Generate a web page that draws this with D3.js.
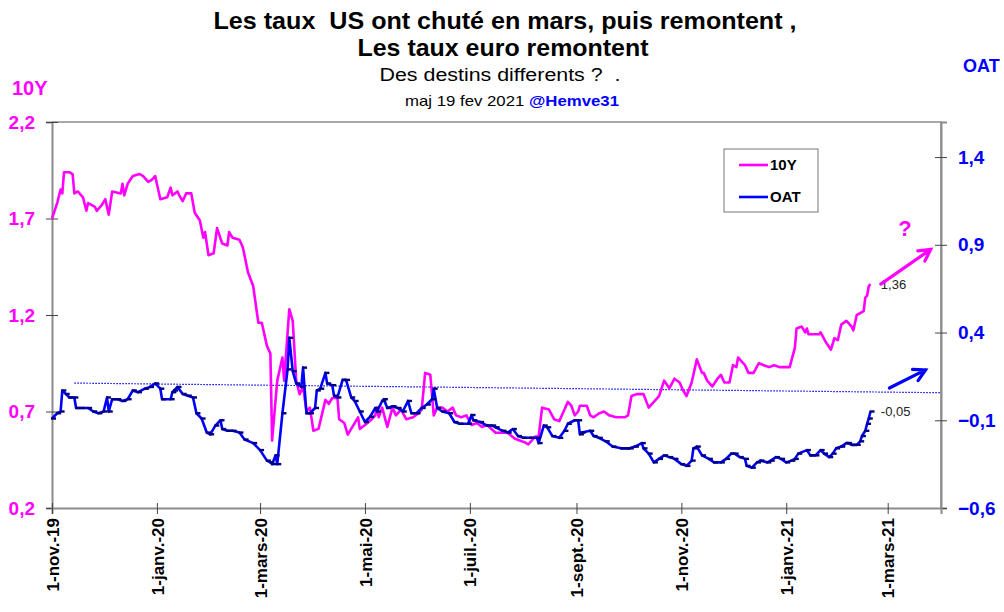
<!DOCTYPE html>
<head>
<meta charset="utf-8">
<style>
body { margin: 0; background: #fff; }
svg { display: block; font-family: Arial, "Liberation Sans", sans-serif; }
</style>
</head>
<body>
<script src="https://cdnjs.cloudflare.com/ajax/libs/d3/7.8.5/d3.min.js"></script>
<script>

// 10 ans US (axe gauche)
var usDates = [
  "2019-11-01","2019-11-04","2019-11-06","2019-11-07","2019-11-08","2019-11-11","2019-11-13","2019-11-14",
  "2019-11-16","2019-11-19","2019-11-21","2019-11-22","2019-11-26","2019-11-27","2019-11-30","2019-12-02",
  "2019-12-04","2019-12-06","2019-12-11","2019-12-12","2019-12-13","2019-12-15","2019-12-18","2019-12-22",
  "2019-12-24","2019-12-27","2019-12-29","2019-12-31","2020-01-03","2020-01-07","2020-01-09","2020-01-10",
  "2020-01-13","2020-01-14","2020-01-16","2020-01-18","2020-01-21","2020-01-23","2020-01-26","2020-01-28",
  "2020-01-29","2020-01-31","2020-02-03","2020-02-05","2020-02-08","2020-02-11","2020-02-12","2020-02-14",
  "2020-02-18","2020-02-20","2020-02-23","2020-02-26","2020-02-29","2020-03-02","2020-03-05","2020-03-07",
  "2020-03-08","2020-03-11","2020-03-14","2020-03-15","2020-03-18","2020-03-20","2020-03-22","2020-03-24",
  "2020-03-26","2020-03-28","2020-03-30","2020-04-01","2020-04-04","2020-04-08","2020-04-10","2020-04-12",
  "2020-04-15","2020-04-16","2020-04-19","2020-04-21","2020-04-23","2020-04-27","2020-04-28","2020-05-01",
  "2020-05-05","2020-05-07","2020-05-08","2020-05-09","2020-05-11","2020-05-14","2020-05-17","2020-05-19",
  "2020-05-22","2020-05-25","2020-05-29","2020-06-01","2020-06-03","2020-06-05","2020-06-08","2020-06-10",
  "2020-06-12","2020-06-15","2020-06-18","2020-06-21","2020-06-23","2020-06-26","2020-06-29","2020-07-02",
  "2020-07-05","2020-07-08","2020-07-11","2020-07-16","2020-07-20","2020-07-23","2020-07-27","2020-07-30",
  "2020-08-02","2020-08-04","2020-08-08","2020-08-10","2020-08-12","2020-08-16","2020-08-19","2020-08-22",
  "2020-08-24","2020-08-27","2020-08-29","2020-08-31","2020-09-02","2020-09-03","2020-09-07","2020-09-09",
  "2020-09-11","2020-09-14","2020-09-17","2020-09-20","2020-09-24","2020-09-29","2020-10-01","2020-10-03",
  "2020-10-06","2020-10-10","2020-10-13","2020-10-16","2020-10-19","2020-10-22","2020-10-25","2020-10-28",
  "2020-10-31","2020-11-02","2020-11-04","2020-11-07","2020-11-10","2020-11-13","2020-11-14","2020-11-16",
  "2020-11-19","2020-11-22","2020-11-24","2020-11-26","2020-11-29","2020-12-01","2020-12-03","2020-12-04",
  "2020-12-06","2020-12-08","2020-12-10","2020-12-13","2020-12-16","2020-12-19","2020-12-22","2020-12-25",
  "2020-12-28","2020-12-31","2021-01-03","2021-01-06","2021-01-07","2021-01-10","2021-01-12","2021-01-13",
  "2021-01-14","2021-01-17","2021-01-20","2021-01-21","2021-01-24","2021-01-27","2021-01-29","2021-01-31",
  "2021-02-02","2021-02-05","2021-02-06","2021-02-08","2021-02-09","2021-02-11","2021-02-13","2021-02-15",
  "2021-02-16","2021-02-17","2021-02-18","2021-02-19"
];
var usValues = [
  1.70,1.78,1.85,1.83,1.94,1.94,1.93,1.83,
  1.84,1.81,1.74,1.78,1.76,1.74,1.77,1.80,
  1.72,1.84,1.83,1.88,1.82,1.88,1.92,1.93,
  1.92,1.89,1.90,1.92,1.80,1.81,1.86,1.82,
  1.84,1.82,1.79,1.83,1.83,1.73,1.69,1.60,
  1.63,1.51,1.52,1.65,1.57,1.56,1.63,1.60,
  1.59,1.55,1.42,1.35,1.16,1.16,1.04,1.00,
  0.55,0.86,0.98,0.86,1.23,1.17,0.86,0.79,
  0.83,0.70,0.72,0.60,0.61,0.76,0.74,0.77,
  0.77,0.66,0.64,0.58,0.61,0.67,0.61,0.63,
  0.66,0.68,0.72,0.67,0.72,0.62,0.72,0.68,
  0.71,0.66,0.67,0.69,0.71,0.90,0.89,0.68,
  0.72,0.72,0.70,0.72,0.68,0.67,0.68,0.63,
  0.64,0.62,0.63,0.59,0.59,0.59,0.56,0.55,
  0.54,0.53,0.57,0.57,0.72,0.71,0.66,0.65,
  0.69,0.75,0.73,0.68,0.70,0.73,0.73,0.68,
  0.67,0.69,0.70,0.68,0.67,0.67,0.68,0.78,
  0.79,0.79,0.72,0.75,0.78,0.86,0.82,0.87,
  0.85,0.81,0.78,0.85,0.97,0.90,0.90,0.86,
  0.83,0.87,0.89,0.85,0.85,0.94,0.93,0.98,
  0.96,0.94,0.90,0.90,0.95,0.94,0.93,0.94,
  0.93,0.93,0.93,1.03,1.13,1.14,1.11,1.13,
  1.10,1.10,1.10,1.11,1.06,1.02,1.08,1.07,
  1.15,1.17,1.16,1.14,1.12,1.20,1.21,1.22,
  1.29,1.30,1.35,1.36
];

// OAT 10 ans (axe droit)
var oatDates = [
  "2019-11-01","2019-11-04","2019-11-06","2019-11-07","2019-11-09","2019-11-11","2019-11-14","2019-11-15",
  "2019-11-18","2019-11-22","2019-11-25","2019-11-28","2019-12-01","2019-12-03","2019-12-04","2019-12-06",
  "2019-12-09","2019-12-12","2019-12-15","2019-12-18","2019-12-21","2019-12-25","2019-12-28","2019-12-31",
  "2020-01-03","2020-01-04","2020-01-09","2020-01-10","2020-01-11","2020-01-13","2020-01-16","2020-01-19",
  "2020-01-22","2020-01-24","2020-01-27","2020-01-30","2020-02-01","2020-02-04","2020-02-07","2020-02-08",
  "2020-02-11","2020-02-14","2020-02-18","2020-02-21","2020-02-26","2020-03-01","2020-03-05","2020-03-07",
  "2020-03-08","2020-03-10","2020-03-11","2020-03-14","2020-03-17","2020-03-18","2020-03-20","2020-03-22",
  "2020-03-25","2020-03-26","2020-03-28","2020-03-30","2020-04-02","2020-04-03","2020-04-05","2020-04-08",
  "2020-04-09","2020-04-12","2020-04-13","2020-04-15","2020-04-18","2020-04-20","2020-04-23","2020-04-25",
  "2020-04-28","2020-05-01","2020-05-04","2020-05-07","2020-05-08","2020-05-11","2020-05-12","2020-05-14",
  "2020-05-17","2020-05-20","2020-05-23","2020-05-26","2020-05-28","2020-05-31","2020-06-03","2020-06-06",
  "2020-06-09","2020-06-10","2020-06-12","2020-06-15","2020-06-19","2020-06-22","2020-06-25","2020-06-30",
  "2020-07-02","2020-07-03","2020-07-07","2020-07-11","2020-07-14","2020-07-16","2020-07-20","2020-07-23",
  "2020-07-26","2020-07-29","2020-08-01","2020-08-05","2020-08-09","2020-08-10","2020-08-13","2020-08-15",
  "2020-08-18","2020-08-22","2020-08-25","2020-08-27","2020-08-31","2020-09-02","2020-09-03","2020-09-04",
  "2020-09-09","2020-09-11","2020-09-14","2020-09-18","2020-09-22","2020-09-27","2020-09-30","2020-10-02",
  "2020-10-05","2020-10-09","2020-10-10","2020-10-13","2020-10-16","2020-10-19","2020-10-22","2020-10-25",
  "2020-10-28","2020-11-01","2020-11-04","2020-11-07","2020-11-08","2020-11-10","2020-11-13","2020-11-17",
  "2020-11-20","2020-11-24","2020-11-27","2020-11-30","2020-12-02","2020-12-05","2020-12-08","2020-12-09",
  "2020-12-12","2020-12-15","2020-12-17","2020-12-21","2020-12-23","2020-12-26","2020-12-29","2021-01-01",
  "2021-01-04","2021-01-06","2021-01-08","2021-01-13","2021-01-15","2021-01-18","2021-01-21","2021-01-23",
  "2021-01-26","2021-01-28","2021-01-30","2021-02-02","2021-02-05","2021-02-06","2021-02-08","2021-02-11",
  "2021-02-13","2021-02-14","2021-02-16","2021-02-17","2021-02-18","2021-02-19"
];
var oatValues = [
  -0.09,-0.06,-0.05,0.07,0.05,0.03,0.03,-0.03,
  -0.03,-0.03,-0.05,-0.06,-0.05,0.03,-0.05,0.02,
  0.02,0.01,0.02,0.07,0.06,0.08,0.09,0.11,
  0.08,0.02,0.02,0.06,0.07,0.09,0.05,0.04,
  0.03,-0.06,-0.09,-0.17,-0.18,-0.13,-0.10,-0.15,
  -0.16,-0.16,-0.17,-0.21,-0.23,-0.27,-0.33,-0.34,
  -0.35,-0.30,-0.35,-0.06,0.19,0.37,0.18,0.11,
  0.09,0.20,-0.06,-0.06,-0.03,0.07,0.08,0.17,
  0.11,0.10,0.04,0.03,0.13,0.13,0.03,0.01,
  -0.05,-0.11,-0.08,-0.03,-0.05,0.01,0.02,-0.03,
  -0.02,-0.03,-0.05,0.01,-0.06,-0.06,-0.03,-0.01,
  0.02,0.08,-0.03,-0.05,-0.06,-0.11,-0.12,-0.12,
  -0.07,-0.10,-0.11,-0.13,-0.13,-0.14,-0.16,-0.17,
  -0.15,-0.19,-0.20,-0.20,-0.20,-0.23,-0.13,-0.14,
  -0.19,-0.20,-0.16,-0.12,-0.10,-0.10,-0.18,-0.17,
  -0.16,-0.19,-0.20,-0.22,-0.25,-0.26,-0.26,-0.26,
  -0.25,-0.23,-0.26,-0.29,-0.34,-0.32,-0.30,-0.31,
  -0.32,-0.35,-0.36,-0.33,-0.26,-0.25,-0.30,-0.32,
  -0.34,-0.34,-0.32,-0.29,-0.29,-0.31,-0.32,-0.36,
  -0.37,-0.34,-0.33,-0.34,-0.33,-0.31,-0.32,-0.34,
  -0.33,-0.32,-0.29,-0.27,-0.30,-0.30,-0.27,-0.29,
  -0.31,-0.29,-0.26,-0.25,-0.23,-0.23,-0.24,-0.24,
  -0.22,-0.19,-0.16,-0.12,-0.09,-0.05
];

// ligne pointillée (axe droit)
var trendDates = ["2019-11-14", "2021-04-01"];
var trendValues = [0.112, 0.057];

var xDomain = ["2019-11-01", "2021-04-01"];
var tickDates = ["2019-11-01","2020-01-01","2020-03-01","2020-05-01","2020-07-01","2020-09-01","2020-11-01","2021-01-01","2021-03-01"];
var tickLabels = ["1-nov.-19","1-janv.-20","1-mars-20","1-mai-20","1-juil.-20","1-sept.-20","1-nov.-20","1-janv.-21","1-mars-21"];
var leftTicks = [0.2, 0.7, 1.2, 1.7, 2.2];
var rightTicks = [-0.6, -0.1, 0.4, 0.9, 1.4];

var width = 1004, height = 612;
var plotLeft = 52, plotRight = 941, plotTop = 122, plotBottom = 508;
var pink = "#ff00ff", blue = "#0000ff", navy = "#000080";

var parse = d3.utcParse("%Y-%m-%d");
var fmt = function(v) { return d3.format(".1f")(v).replace(".", ","); };

var x = d3.scaleUtc().domain(xDomain.map(parse)).range([plotLeft, plotRight]);
var yL = d3.scaleLinear().domain([0.2, 2.2]).range([plotBottom, plotTop]);
var yR = d3.scaleLinear().domain([-0.6, 1.6]).range([plotBottom, plotTop]);

var svg = d3.select("body").append("svg")
    .attr("width", width)
    .attr("height", height);

// frame (top + right)
svg.append("path")
    .attr("d", "M" + plotLeft + "," + plotTop + "H" + plotRight + "V" + plotBottom)
    .attr("fill", "none").attr("stroke", "#8c8c8c").attr("stroke-width", 1.5);

// left axis
var gL = svg.append("g").attr("transform", "translate(" + plotLeft + ",0)")
    .call(d3.axisLeft(yL).tickValues(leftTicks).tickFormat(fmt).tickSize(6).tickPadding(11));
gL.select(".domain").attr("stroke", "#8c8c8c").attr("stroke-width", 2);
gL.selectAll(".tick line").attr("x1", 6).attr("stroke", "#444");
gL.selectAll(".tick text").attr("fill", pink).attr("font-size", 19).attr("font-weight", "bold")
    .attr("font-family", "Arial, 'Liberation Sans', sans-serif");

// right axis
var gR = svg.append("g").attr("transform", "translate(" + plotRight + ",0)")
    .call(d3.axisRight(yR).tickValues(rightTicks).tickFormat(fmt).tickSize(6).tickPadding(11));
gR.select(".domain").attr("stroke", "#8c8c8c").attr("stroke-width", 2);
gR.selectAll(".tick line").attr("x1", -6).attr("stroke", "#444");
gR.selectAll(".tick text").attr("fill", blue).attr("font-size", 19).attr("font-weight", "bold")
    .attr("font-family", "Arial, 'Liberation Sans', sans-serif");

// bottom axis
var gB = svg.append("g").attr("transform", "translate(0," + plotBottom + ")")
    .call(d3.axisBottom(x).tickValues(tickDates.map(parse))
        .tickFormat(function(d, i) { return tickLabels[i]; }).tickSize(6));
gB.select(".domain").attr("stroke", "#8c8c8c").attr("stroke-width", 2);
gB.selectAll(".tick line").attr("y1", -5).attr("stroke", "#444");
gB.selectAll(".tick text")
    .attr("transform", "rotate(-90)")
    .attr("text-anchor", "end")
    .attr("x", -10).attr("y", 0).attr("dy", "0.36em")
    .attr("fill", "#000").attr("font-size", 17).attr("font-weight", "bold")
    .attr("font-family", "Arial, 'Liberation Sans', sans-serif");

// dotted line
var trend = trendDates.map(function(d, i) { return [parse(d), trendValues[i]]; });
svg.append("path")
    .attr("d", d3.line().x(function(d) { return x(d[0]); }).y(function(d) { return yR(d[1]); })(trend))
    .attr("fill", "none").attr("stroke", blue).attr("stroke-width", 1.2).attr("stroke-dasharray", "1.5,1.5");

// series
var us = usDates.map(function(d, i) { return [parse(d), usValues[i]]; });
var oat = oatDates.map(function(d, i) { return [parse(d), oatValues[i]]; });

svg.append("path")
    .attr("d", d3.line().x(function(d) { return x(d[0]); }).y(function(d) { return yL(d[1]); })(us))
    .attr("fill", "none").attr("stroke", pink).attr("stroke-width", 2.6).attr("stroke-linejoin", "round");

svg.append("path")
    .attr("d", d3.line().x(function(d) { return x(d[0]); }).y(function(d) { return yR(d[1]); })(oat))
    .attr("fill", "none").attr("stroke", blue).attr("stroke-width", 2.6).attr("stroke-linejoin", "round");

// dash markers on the OAT line
svg.append("g").selectAll("rect").data(oat).enter().append("rect")
    .attr("x", function(d) { return x(d[0]) - 1; })
    .attr("y", function(d) { return yR(d[1]) - 1.2; })
    .attr("width", 5).attr("height", 2.4)
    .attr("fill", navy);

// legend
var lg = svg.append("g");
lg.append("rect").attr("x", 724).attr("y", 149).attr("width", 94).attr("height", 63)
    .attr("fill", "#fff").attr("stroke", "#777").attr("stroke-width", 1);
[["10Y", pink, 165], ["OAT", blue, 197]].forEach(function(e) {
  lg.append("line").attr("x1", 739).attr("x2", 768).attr("y1", e[2]).attr("y2", e[2])
      .attr("stroke", e[1]).attr("stroke-width", 2.6);
  lg.append("text").attr("x", 770).attr("y", e[2]).attr("dy", "0.36em")
      .attr("font-size", 15).attr("font-weight", "bold").text(e[0]);
});

// titles (condensed Arial look: fixed widths)
function title(txt, y, size, w, bold) {
  return svg.append("text").attr("x", 505).attr("y", y)
      .attr("text-anchor", "middle").attr("font-size", size)
      .attr("font-weight", bold ? "bold" : "normal")
      .attr("textLength", w).attr("lengthAdjust", "spacingAndGlyphs")
      .attr("xml:space", "preserve").text(txt);
}
title("Les taux  US ont chuté en mars, puis remontent ,", 29, 24, 583, true);
title("Les taux euro remontent", 56, 24, 291, true).attr("x", 503);
title("Des destins differents ?  .", 81, 18, 241, false).attr("x", 500);

var sub = svg.append("text").attr("x", 512).attr("y", 106)
    .attr("text-anchor", "middle").attr("font-size", 15)
    .attr("textLength", 214).attr("lengthAdjust", "spacingAndGlyphs");
sub.append("tspan").text("maj 19 fev 2021 ");
sub.append("tspan").attr("fill", blue).attr("font-weight", "bold").text("@Hemve31");

svg.append("text").attr("x", 12).attr("y", 95).attr("fill", pink)
    .attr("font-size", 20).attr("font-weight", "bold").text("10Y");
svg.append("text").attr("x", 963).attr("y", 72).attr("fill", blue)
    .attr("font-size", 18).attr("font-weight", "bold").text("OAT");

// annotations
svg.append("text").attr("x", x(parse("2021-02-25"))).attr("y", yL(1.36)).attr("dy", "0.36em")
    .attr("font-size", 13).attr("fill", "#222").text("1,36");
svg.append("text").attr("x", x(parse("2021-02-25"))).attr("y", yR(-0.05)).attr("dy", "0.36em")
    .attr("font-size", 13).attr("fill", "#222").text("-0,05");

function arrow(x1, y1, x2, y2, color) {
  var a = Math.atan2(y2 - y1, x2 - x1), h = 13, s = 0.5;
  svg.append("path")
      .attr("d", "M" + x1 + "," + y1 + "L" + x2 + "," + y2 +
        "M" + (x2 - h * Math.cos(a - s)) + "," + (y2 - h * Math.sin(a - s)) +
        "L" + x2 + "," + y2 +
        "L" + (x2 - h * Math.cos(a + s)) + "," + (y2 - h * Math.sin(a + s)))
      .attr("fill", "none").attr("stroke", color).attr("stroke-width", 3.2)
      .attr("stroke-linecap", "round").attr("stroke-linejoin", "miter");
}
arrow(x(parse("2021-02-25")), yL(1.36), x(parse("2021-03-26")), yL(1.54), pink);
arrow(x(parse("2021-03-02")), yR(0.084), x(parse("2021-03-23")), yR(0.187), blue);

svg.append("text").attr("x", x(parse("2021-03-11"))).attr("y", yL(1.65)).attr("dy", "0.36em")
    .attr("text-anchor", "middle").attr("font-size", 22).attr("font-weight", "bold")
    .attr("fill", pink).text("?");

</script>
</body>
</html>
